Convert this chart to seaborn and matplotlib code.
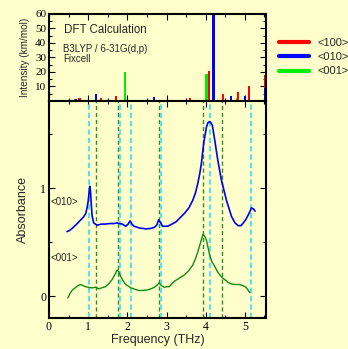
import numpy as np
import matplotlib
matplotlib.use("Agg")
import matplotlib.pyplot as plt
from matplotlib.lines import Line2D
from matplotlib.ticker import MultipleLocator
import seaborn as sns

# stick spectrum (DFT), frequency in THz, intensity in km/mol
red_f = [0.78, 1.33, 1.72, 3.59, 4.08, 4.45, 4.83, 5.11, 5.52]
red_i = [2.0, 2.3, 3.2, 1.8, 20.7, 5.0, 6.0, 10.6, 17.7]
blue_f = [0.69, 1.19, 1.78, 2.67, 3.63, 4.20, 4.64, 5.01, 5.52]
blue_i = [1.4, 5.0, 1.0, 2.8, 1.0, 59.5, 3.2, 3.4, 9.2]
green_f = [0.66, 1.95, 2.19, 3.50, 4.02, 4.80, 5.10]
green_i = [1.2, 19.8, 1.0, 1.0, 18.4, 2.0, 6.0]

# measured absorbance
b_freq = [0.46, 0.52, 0.59, 0.68, 0.76, 0.84, 0.89, 0.94, 0.97, 1.00, 1.02, 1.04,
          1.06, 1.08, 1.10, 1.14, 1.23, 1.34, 1.44, 1.55, 1.65, 1.74, 1.80, 1.87,
          1.96, 2.02, 2.07, 2.12, 2.17, 2.30, 2.47, 2.60, 2.69, 2.75, 2.80, 2.85,
          2.90, 3.03, 3.14, 3.24, 3.35, 3.46, 3.57, 3.67, 3.74, 3.80, 3.85, 3.89,
          3.95, 4.02, 4.06, 4.10, 4.13, 4.17, 4.23, 4.31, 4.40, 4.53, 4.66, 4.75,
          4.83, 4.90, 4.96, 5.02, 5.08, 5.12, 5.17, 5.22, 5.26]
b_abs = [0.60, 0.61, 0.63, 0.66, 0.69, 0.72, 0.74, 0.77, 0.82, 0.88, 0.95, 1.02,
         0.97, 0.85, 0.75, 0.68, 0.66, 0.67, 0.67, 0.675, 0.675, 0.68, 0.675, 0.67,
         0.65, 0.67, 0.70, 0.67, 0.65, 0.635, 0.625, 0.63, 0.64, 0.66, 0.71, 0.68,
         0.65, 0.65, 0.67, 0.69, 0.73, 0.77, 0.82, 0.89, 0.96, 1.05, 1.14, 1.23,
         1.42, 1.57, 1.61, 1.62, 1.61, 1.585, 1.45, 1.26, 1.08, 0.89, 0.74, 0.68,
         0.655, 0.655, 0.68, 0.71, 0.75, 0.78, 0.82, 0.81, 0.79]
g_freq = [0.48, 0.54, 0.60, 0.67, 0.74, 0.80, 0.87, 0.93, 1.00, 1.06, 1.12, 1.19,
          1.27, 1.35, 1.44, 1.53, 1.61, 1.68, 1.74, 1.78, 1.83, 1.90, 1.96, 2.09,
          2.20, 2.30, 2.40, 2.51, 2.60, 2.69, 2.76, 2.81, 2.87, 2.94, 2.99, 3.07,
          3.20, 3.33, 3.46, 3.57, 3.67, 3.74, 3.80, 3.87, 3.93, 3.97, 4.02, 4.10,
          4.16, 4.23, 4.30, 4.36, 4.43, 4.49, 4.57, 4.66, 4.76, 4.87, 4.95, 5.03,
          5.08, 5.13]
g_abs = [-0.015, 0.03, 0.06, 0.08, 0.10, 0.11, 0.10, 0.09, 0.085, 0.08, 0.08, 0.085,
         0.07, 0.08, 0.09, 0.12, 0.155, 0.20, 0.245, 0.23, 0.185, 0.14, 0.11, 0.08,
         0.065, 0.055, 0.055, 0.06, 0.07, 0.085, 0.105, 0.125, 0.10, 0.085, 0.09, 0.09,
         0.14, 0.17, 0.20, 0.24, 0.29, 0.35, 0.415, 0.50, 0.575, 0.56, 0.52, 0.385,
         0.32, 0.28, 0.23, 0.20, 0.17, 0.155, 0.13, 0.115, 0.11, 0.11, 0.10, 0.085,
         0.06, 0.035]

# peak markers
cyan_lines = [1.03, 1.81, 2.09, 2.86, 4.10, 5.15]
dkgreen_lines = [1.21, 1.77, 2.81, 3.93, 4.42]

bg = "#FFFFCC"
sns.set_style("ticks", rc={"axes.facecolor": bg, "figure.facecolor": bg})
plt.rcParams["font.family"] = ["Liberation Sans", "DejaVu Sans"]

fig = plt.figure(figsize=(3.48, 3.49), dpi=100)
ax1 = fig.add_axes([0.1408, 0.7106, 0.6236, 0.2493])
ax2 = fig.add_axes([0.1408, 0.0888, 0.6236, 0.6218])

serif = ["Liberation Serif", "DejaVu Serif"]
for ax in (ax1, ax2):
    ax.set_facecolor(bg)
    for s in ax.spines.values():
        s.set_linewidth(1.5)
        s.set_color("black")
    ax.tick_params(which="both", direction="in", top=True, right=True, pad=2,
                   colors="black")
    ax.tick_params(which="major", length=4, width=0.8)
    ax.tick_params(which="minor", length=2.5, width=0.8)
    ax.set_xlim(0, 5.54)
    ax.xaxis.set_major_locator(MultipleLocator(1))
    ax.xaxis.set_minor_locator(MultipleLocator(0.5))

# top: calculated intensities
w = 0.055
ax1.bar(green_f, green_i, width=w, color="#00ee00", linewidth=0, zorder=2)
ax1.bar(red_f, red_i, width=w, color="#ff0000", linewidth=0, zorder=2)
ax1.bar(blue_f, blue_i, width=w, color="#0000ff", linewidth=0, zorder=2)
ax1.set_ylim(0, 60)
ax1.yaxis.set_major_locator(MultipleLocator(10))
ax1.yaxis.set_minor_locator(MultipleLocator(5))
ax1.set_yticks([10, 20, 30, 40, 50, 60])
ax1.set_yticklabels(["10", "20", "30", "40", "50", "60"], family=serif, fontsize=8)
ax1.set_xticklabels([])
ax1.set_ylabel("Intensity (km/mol)", fontsize=7.2, labelpad=4)
ax1.text(0.069, 0.816, "DFT Calculation", transform=ax1.transAxes, fontsize=8.3, va="center")
ax1.text(0.064, 0.598, "B3LYP / 6-31G(d,p)", transform=ax1.transAxes, fontsize=7, va="center")
ax1.text(0.064, 0.483, "Fixcell", transform=ax1.transAxes, fontsize=7, va="center")

handles = [Line2D([], [], color="#ff0000", lw=3),
           Line2D([], [], color="#0000ff", lw=3),
           Line2D([], [], color="#00ee00", lw=3)]
fig.legend(handles, ["<100>", "<010>", "<001>"], loc="upper left",
           bbox_to_anchor=(0.802, 0.891), frameon=False, fontsize=8,
           handlelength=2.7, handletextpad=0.8, labelspacing=0.38, borderpad=0,
           borderaxespad=0)

# bottom: absorbance
for f in dkgreen_lines:
    ax2.axvline(f, color="#2e8b2e", lw=1.0, ls=(0, (3, 2)), zorder=1)
for f in cyan_lines:
    ax2.axvline(f, color="#55e5e5", lw=1.5, ls=(0, (2.5, 1.5)), zorder=1)

sns.lineplot(x=b_freq, y=b_abs, ax=ax2, color="#0000ee", lw=1.2, sort=False,
             estimator=None, zorder=3)
sns.lineplot(x=g_freq, y=g_abs, ax=ax2, color="#138a13", lw=1.0, sort=False,
             estimator=None, zorder=3)
ax2.set_ylim(-0.2, 1.81)
ax2.yaxis.set_major_locator(MultipleLocator(1))
ax2.yaxis.set_minor_locator(MultipleLocator(0.5))
ax2.set_yticks([0, 1])
ax2.set_yticklabels(["0", "1"], family=serif, fontsize=8.5)
ax2.set_xticks([0, 1, 2, 3, 4, 5])
ax2.set_xticklabels(["0", "1", "2", "3", "4", "5"], family=serif, fontsize=8.5)
ax2.set_xlabel("Frequency (THz)", fontsize=9, labelpad=1)
ax2.set_ylabel("Absorbance", fontsize=9, labelpad=8)
ax2.text(0.04, 0.877, "<010>", fontsize=7, va="center")
ax2.text(0.04, 0.36, "<001>", fontsize=7, va="center")

fig.savefig("out.png", dpi=100, facecolor=fig.get_facecolor())
